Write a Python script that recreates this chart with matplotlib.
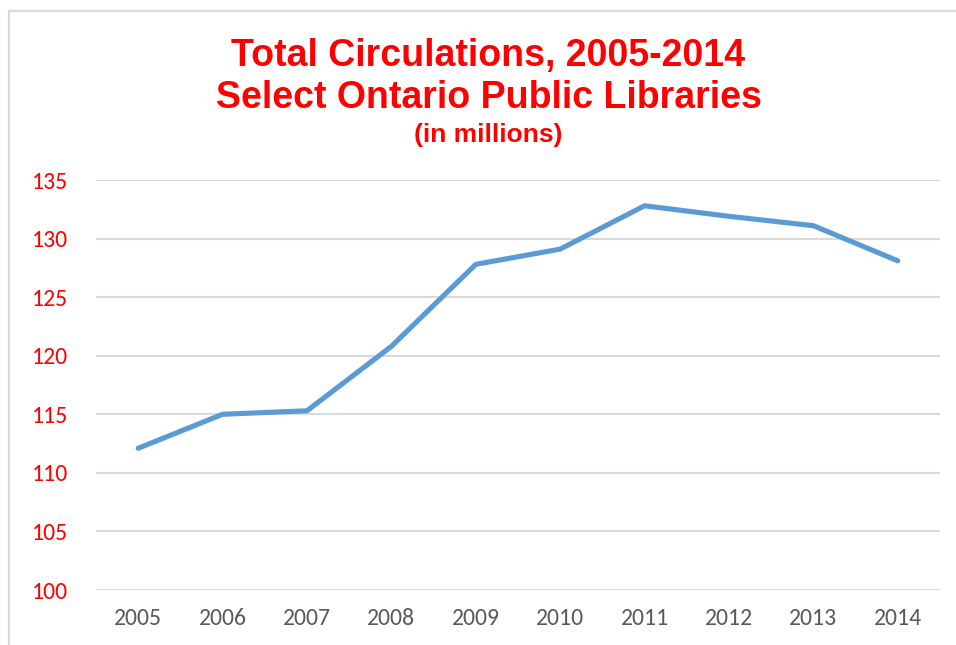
import matplotlib
matplotlib.use("Agg")
from matplotlib import pyplot as plt
from matplotlib.patches import Rectangle

years = ["2005", "2006", "2007", "2008", "2009", "2010", "2011", "2012", "2013", "2014"]
circulations = [112.1, 115.0, 115.3, 120.8, 127.8, 129.1, 132.8, 131.9, 131.1, 128.1]
yticks = [100, 105, 110, 115, 120, 125, 130, 135]

tickfont = ["Carlito", "Lato", "DejaVu Sans"]
titlefont = ["Liberation Sans", "DejaVu Sans"]

fig = plt.figure(figsize=(9.56, 6.45), dpi=100)
ax = fig.add_axes([96/956, 1-590/645, 844/956, 410/645])

# outer chart frame (light gray, left and top edges visible)
fig.patches.append(Rectangle((9/956, -0.05), 1.1, 1-11/645+0.05, transform=fig.transFigure,
                             fill=False, edgecolor="#D9D9D9", linewidth=1.6))

x = list(range(len(years)))
ax.plot(x, circulations, color="#5B9BD5", linewidth=3.7, solid_capstyle="round", zorder=3)

ax.set_xlim(-0.5, len(years) - 0.5)
ax.set_ylim(100, 135)
ax.set_yticks(yticks)
ax.set_xticks(x)
ax.set_xticklabels(years)
ax.grid(axis="y", color="#D9D9D9", linewidth=1.5)
ax.set_axisbelow(True)
for s in ax.spines.values():
    s.set_visible(False)
ax.tick_params(length=0)
ax.tick_params(axis="y", pad=20)
ax.tick_params(axis="x", pad=13)
for lab in ax.get_yticklabels():
    lab.set_family(tickfont)
    lab.set_fontsize(17)
    lab.set_color("#FF0000")
for lab in ax.get_xticklabels():
    lab.set_family(tickfont)
    lab.set_fontsize(17)
    lab.set_color("#595959")

fig.text(0.511, 1-66/645, "Total Circulations, 2005-2014", ha="center", va="baseline",
         fontsize=27, fontweight="bold", color="#FF0000", family=titlefont)
fig.text(0.511, 1-108/645, "Select Ontario Public Libraries", ha="center", va="baseline",
         fontsize=27, fontweight="bold", color="#FF0000", family=titlefont)
fig.text(0.511, 1-142/645, "(in millions)", ha="center", va="baseline",
         fontsize=19, fontweight="bold", color="#FF0000", family=titlefont)

fig.savefig("out.png", dpi=100)
